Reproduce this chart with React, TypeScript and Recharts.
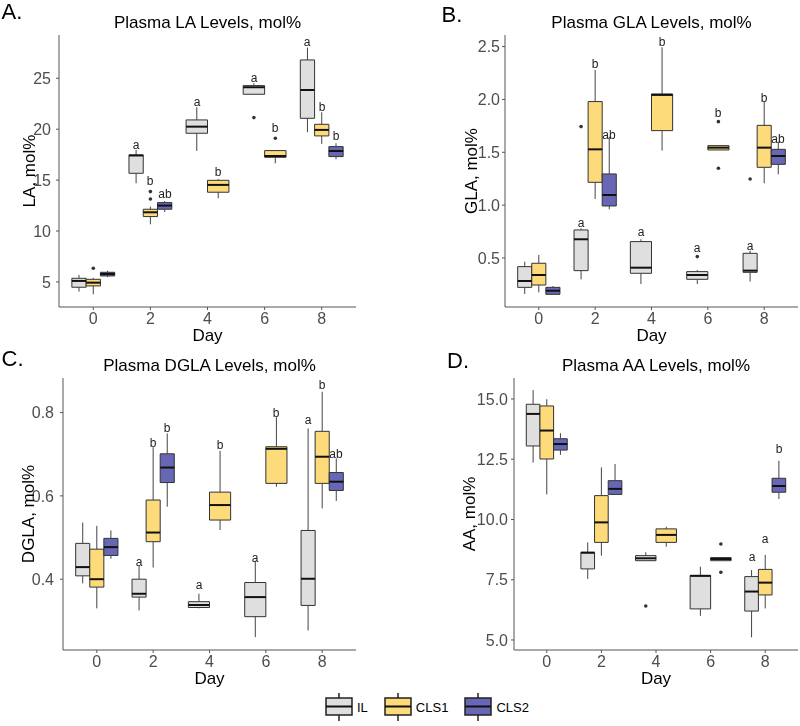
import React from 'react';
import { ComposedChart, XAxis, YAxis, Scatter, ReferenceArea, ReferenceLine } from 'recharts';

// x positions are days; each day slot is 2 units wide, boxes are dodged inside 75% of it
const days = [0, 2, 4, 6, 8];
const groups = ['IL', 'CLS1', 'CLS2'];
const fills: Record<string, string> = { IL: '#dfdfdf', CLS1: '#fddb7b', CLS2: '#6767b6' };

// [day, group, min, q1, median, q3, max]
type Box = [number, string, number, number, number, number, number];
// [day, group, value]
type Out = [number, string, number];
// [day, group, letter, y]
type Letter = [number, string, string, number];

// A. LA
const laBoxes: Box[] = [
  [0, 'IL', 4.05, 4.48, 5.1, 5.36, 5.69],
  [0, 'CLS1', 3.79, 4.61, 4.93, 5.26, 5.4],
  [0, 'CLS2', 5.47, 5.59, 5.78, 5.95, 6.11],
  [2, 'IL', 14.69, 15.67, 17.42, 17.47, 17.96],
  [2, 'CLS1', 10.66, 11.42, 11.84, 12.14, 12.4],
  [2, 'CLS2', 11.87, 12.14, 12.5, 12.79, 12.95],
  [4, 'IL', 17.86, 19.6, 20.25, 20.91, 22.15],
  [4, 'CLS1', 13.22, 13.81, 14.53, 14.98, 15.11],
  [6, 'IL', 23.43, 23.43, 24.12, 24.28, 24.51],
  [6, 'CLS1', 16.65, 17.24, 17.37, 17.9, 17.9],
  [8, 'IL', 19.7, 21.07, 23.85, 26.8, 28.01],
  [8, 'CLS1', 18.55, 19.34, 19.93, 20.48, 21.66],
  [8, 'CLS2', 17.05, 17.31, 17.86, 18.29, 18.62],
];
const laOutliers: Out[] = [
  [0, 'CLS1', 6.34], [2, 'CLS1', 13.15], [2, 'CLS1', 13.87], [6, 'IL', 21.14], [6, 'CLS1', 19.11],
];
const laLetters: Letter[] = [
  [2, 'IL', 'a', 18.45], [2, 'CLS1', 'b', 14.92], [2, 'CLS2', 'ab', 13.61],
  [4, 'IL', 'a', 22.71], [4, 'CLS1', 'b', 15.77],
  [6, 'IL', 'a', 25.07], [6, 'CLS1', 'b', 20.09],
  [8, 'IL', 'a', 28.54], [8, 'CLS1', 'b', 22.22], [8, 'CLS2', 'b', 19.37],
];

// B. GLA
const glaBoxes: Box[] = [
  [0, 'IL', 0.159, 0.222, 0.282, 0.418, 0.465],
  [0, 'CLS1', 0.175, 0.244, 0.339, 0.45, 0.528],
  [0, 'CLS2', 0.15, 0.156, 0.19, 0.222, 0.235],
  [2, 'IL', 0.298, 0.38, 0.677, 0.765, 0.78],
  [2, 'CLS1', 1.058, 1.216, 1.528, 1.98, 2.279],
  [2, 'CLS2', 0.96, 0.992, 1.096, 1.295, 1.648],
  [4, 'IL', 0.254, 0.355, 0.408, 0.655, 0.677],
  [4, 'CLS1', 1.516, 1.705, 2.043, 2.052, 2.494],
  [6, 'IL', 0.254, 0.298, 0.339, 0.371, 0.386],
  [6, 'CLS1', 1.522, 1.522, 1.544, 1.563, 1.563],
  [8, 'IL', 0.276, 0.364, 0.38, 0.544, 0.569],
  [8, 'CLS1', 1.207, 1.358, 1.544, 1.755, 1.98],
  [8, 'CLS2', 1.292, 1.386, 1.465, 1.528, 1.601],
];
const glaOutliers: Out[] = [
  [2, 'IL', 1.743], [6, 'IL', 0.513], [6, 'CLS1', 1.79], [6, 'CLS1', 1.349], [8, 'IL', 1.248],
];
const glaLetters: Letter[] = [
  [2, 'IL', 'a', 0.828], [2, 'CLS1', 'b', 2.34], [2, 'CLS2', 'ab', 1.664],
  [4, 'IL', 'a', 0.749], [4, 'CLS1', 'b', 2.547],
  [6, 'IL', 'a', 0.591], [6, 'CLS1', 'b', 1.869],
  [8, 'IL', 'a', 0.617], [8, 'CLS1', 'b', 2.011], [8, 'CLS2', 'ab', 1.623],
];

// C. DGLA
const dglaBoxes: Box[] = [
  [0, 'IL', 0.39, 0.408, 0.429, 0.486, 0.536],
  [0, 'CLS1', 0.33, 0.381, 0.4, 0.472, 0.528],
  [0, 'CLS2', 0.449, 0.457, 0.477, 0.498, 0.517],
  [2, 'IL', 0.325, 0.357, 0.365, 0.4, 0.432],
  [2, 'CLS1', 0.428, 0.49, 0.512, 0.59, 0.717],
  [2, 'CLS2', 0.574, 0.632, 0.668, 0.701, 0.75],
  [4, 'IL', 0.33, 0.332, 0.338, 0.346, 0.365],
  [4, 'CLS1', 0.518, 0.542, 0.578, 0.609, 0.708],
  [6, 'IL', 0.261, 0.31, 0.357, 0.392, 0.444],
  [6, 'CLS1', 0.622, 0.63, 0.713, 0.718, 0.789],
  [8, 'IL', 0.277, 0.337, 0.401, 0.517, 0.762],
  [8, 'CLS1', 0.57, 0.63, 0.694, 0.755, 0.85],
  [8, 'CLS2', 0.588, 0.613, 0.634, 0.656, 0.69],
];
const dglaOutliers: Out[] = [];
const dglaLetters: Letter[] = [
  [2, 'IL', 'a', 0.442], [2, 'CLS1', 'b', 0.726], [2, 'CLS2', 'b', 0.764],
  [4, 'IL', 'a', 0.386], [4, 'CLS1', 'b', 0.722],
  [6, 'IL', 'a', 0.45], [6, 'CLS1', 'b', 0.8],
  [8, 'IL', 'a', 0.782], [8, 'CLS1', 'b', 0.865], [8, 'CLS2', 'ab', 0.701],
];

// D. AA
const aaBoxes: Box[] = [
  [0, 'IL', 12.36, 13.05, 14.38, 14.78, 15.37],
  [0, 'CLS1', 11.04, 12.51, 13.69, 14.71, 14.99],
  [0, 'CLS2', 12.68, 12.88, 13.13, 13.35, 13.58],
  [2, 'IL', 7.53, 7.95, 8.62, 8.64, 9.05],
  [2, 'CLS1', 8.5, 9.05, 9.88, 10.99, 12.16],
  [2, 'CLS2', 11.04, 11.04, 11.27, 11.61, 12.3],
  [4, 'IL', 8.29, 8.29, 8.39, 8.5, 8.64],
  [4, 'CLS1', 8.87, 9.05, 9.36, 9.61, 9.7],
  [6, 'IL', 6.0, 6.29, 7.66, 7.68, 8.04],
  [6, 'CLS1', 8.29, 8.29, 8.36, 8.42, 8.42],
  [8, 'IL', 5.11, 6.2, 7.01, 7.63, 7.9],
  [8, 'CLS1', 6.31, 6.87, 7.38, 7.93, 8.53],
  [8, 'CLS2', 10.85, 11.13, 11.39, 11.71, 12.44],
];
const aaOutliers: Out[] = [[4, 'IL', 6.41], [6, 'CLS1', 8.98], [6, 'CLS1', 7.81]];
const aaLetters: Letter[] = [[8, 'IL', 'a', 8.46], [8, 'CLS1', 'a', 9.19], [8, 'CLS2', 'b', 12.91]];

const font = '"Liberation Sans", Arial, Helvetica, sans-serif';

const dodge = (boxes: Box[], day: number, group: string) => {
  const present = groups.filter(g => boxes.some(b => b[0] === day && b[1] === g));
  const w = 1.5 / present.length;
  const cx = day - 0.75 + w * (present.indexOf(group) + 0.5);
  return { cx, x0: cx - w / 2, x1: cx + w / 2 };
};

type PanelProps = {
  tag: string;
  title: string;
  yLabel: string;
  boxes: Box[];
  outliers: Out[];
  letters: Letter[];
  domain: [number, number];
  ticks: number[];
  digits: number;
  left: number;
  top: number;
  height: number;
  plotLeft: number;
  plotRight: number;
  plotTop: number;
  plotBottom: number;
  yLabelDx: number;
  xLabelDy: number;
  tickGap: number;
  tagX: number;
  tagY: number;
};

const Panel = (p: PanelProps) => {
  const outData = p.outliers.map(([d, g, v]) => ({ x: dodge(p.boxes, d, g).cx, y: v }));
  const letterData = p.letters.map(([d, g, t, v]) => ({ x: dodge(p.boxes, d, g).cx, y: v, t }));

  return (
    <div style={{ position: 'absolute', left: p.left, top: p.top, width: 400, height: p.height, willChange: 'transform' }}>
      <ComposedChart
        width={400}
        height={p.height}
        margin={{ top: p.plotTop, right: 400 - p.plotRight, bottom: 0, left: 0 }}
      >
        <XAxis
          type="number"
          dataKey="x"
          domain={[-1.2, 9.2]}
          ticks={days}
          allowDataOverflow
          height={p.height - p.plotBottom}
          stroke="#555"
          tickSize={3}
          tickMargin={3}
          tick={{ fill: '#4d4d4d', fontSize: 16 }}
          label={{ value: 'Day', position: 'center', dy: p.xLabelDy, fill: '#000', fontSize: 17 }}
        />
        <YAxis
          type="number"
          dataKey="y"
          domain={p.domain}
          ticks={p.ticks}
          allowDataOverflow
          width={p.plotLeft}
          stroke="#555"
          tickSize={3}
          tickMargin={p.tickGap}
          tick={{ fill: '#4d4d4d', fontSize: 16 }}
          tickFormatter={(v: number) => v.toFixed(p.digits)}
          label={{ value: p.yLabel, angle: -90, position: 'center', dx: p.yLabelDx, fill: '#000', fontSize: 17 }}
        />
        {p.boxes.map(([d, g, mn, q1, med, q3, mx]) => {
          const { cx, x0, x1 } = dodge(p.boxes, d, g);
          return (
            <React.Fragment key={`${d}-${g}`}>
              {mx > q3 && (
                <ReferenceLine segment={[{ x: cx, y: q3 }, { x: cx, y: mx }]} stroke="#444" strokeWidth={1} ifOverflow="visible" />
              )}
              {mn < q1 && (
                <ReferenceLine segment={[{ x: cx, y: mn }, { x: cx, y: q1 }]} stroke="#444" strokeWidth={1} ifOverflow="visible" />
              )}
              <ReferenceArea
                x1={x0}
                x2={x1}
                y1={q1}
                y2={q3}
                fill={fills[g]}
                fillOpacity={1}
                stroke="#333"
                strokeWidth={1}
                ifOverflow="visible"
              />
              <ReferenceLine segment={[{ x: x0, y: med }, { x: x1, y: med }]} stroke="#111" strokeWidth={2} ifOverflow="visible" />
            </React.Fragment>
          );
        })}
        {outData.length > 0 && (
          <Scatter
            data={outData}
            fill="#333"
            isAnimationActive={false}
            shape={(s: any) => <circle cx={s.cx} cy={s.cy} r={1.8} fill="#333" />}
          />
        )}
        <Scatter
          data={letterData}
          fill="#222"
          isAnimationActive={false}
          shape={(s: any) => (
            <text
              x={Math.round(s.cx)}
              y={Math.round(s.cy)}
              textAnchor="middle"
              dominantBaseline="central"
              fontSize={12}
              style={{ fill: '#222', stroke: 'none' }}
            >
              {s.payload.t}
            </text>
          )}
        />
      </ComposedChart>
      <svg width={400} height={40} style={{ position: 'absolute', left: 0, top: 0, pointerEvents: 'none' }}>
        <text x={p.tagX} y={p.tagY} fontSize={22} fill="#000">{p.tag}</text>
        <text x={(p.plotLeft + p.plotRight) / 2} y={p.plotTop - 7} fontSize={17} fill="#000" textAnchor="middle">
          {p.title}
        </text>
      </svg>
    </div>
  );
};

const LegendKey = ({ fill }: { fill: string }) => (
  <svg width={28} height={30} style={{ display: 'block' }}>
    <line x1={14} y1={1} x2={14} y2={29} stroke="#222" strokeWidth={1.5} />
    <rect x={1} y={6} width={26} height={17} fill={fill} stroke="#222" strokeWidth={1.5} />
    <line x1={1} y1={14.5} x2={27} y2={14.5} stroke="#111" strokeWidth={2} />
  </svg>
);

export default function App() {
  return (
    <div style={{ position: 'relative', width: 800, height: 726, background: '#fff', fontFamily: font, overflow: 'hidden' }}>
      <style>{'body{margin:0}'}</style>
      <Panel
        tag="A." title="Plasma LA Levels, mol%" yLabel="LA, mol%"
        boxes={laBoxes} outliers={laOutliers} letters={laLetters}
        domain={[2.54, 29.25]} ticks={[5, 10, 15, 20, 25]} digits={0}
        left={0} top={0} height={345}
        plotLeft={59} plotRight={356} plotTop={35} plotBottom={307}
        yLabelDx={-1} xLabelDy={9} tickGap={5} tagX={1.5} tagY={18.5}
      />
      <Panel
        tag="B." title="Plasma GLA Levels, mol%" yLabel="GLA, mol%"
        boxes={glaBoxes} outliers={glaOutliers} letters={glaLetters}
        domain={[0.036, 2.61]} ticks={[0.5, 1, 1.5, 2, 2.5]} digits={1}
        left={400} top={0} height={345}
        plotLeft={105} plotRight={398} plotTop={35} plotBottom={307}
        yLabelDx={18} xLabelDy={9} tickGap={2} tagX={41.5} tagY={21.5}
      />
      <Panel
        tag="C." title="Plasma DGLA Levels, mol%" yLabel="DGLA, mol%"
        boxes={dglaBoxes} outliers={dglaOutliers} letters={dglaLetters}
        domain={[0.23, 0.883]} ticks={[0.4, 0.6, 0.8]} digits={1}
        left={0} top={340} height={350}
        plotLeft={63} plotRight={356} plotTop={38} plotBottom={310}
        yLabelDx={-4} xLabelDy={8} tickGap={6} tagX={1.5} tagY={26}
      />
      <Panel
        tag="D." title="Plasma AA Levels, mol%" yLabel="AA, mol%"
        boxes={aaBoxes} outliers={aaOutliers} letters={aaLetters}
        domain={[4.585, 15.87]} ticks={[5, 7.5, 10, 12.5, 15]} digits={1}
        left={400} top={340} height={350}
        plotLeft={114} plotRight={398} plotTop={38} plotBottom={310}
        yLabelDx={12} xLabelDy={8} tickGap={3} tagX={47} tagY={28}
      />
      <div
        style={{
          position: 'absolute', left: 325, top: 692, height: 30,
          display: 'flex', alignItems: 'center', fontSize: 13, color: '#000',
        }}
      >
        {groups.map(g => (
          <div key={g} style={{ display: 'flex', alignItems: 'center', marginRight: 16 }}>
            <LegendKey fill={fills[g]} />
            <span style={{ marginLeft: 4 }}>{g}</span>
          </div>
        ))}
      </div>
    </div>
  );
}
